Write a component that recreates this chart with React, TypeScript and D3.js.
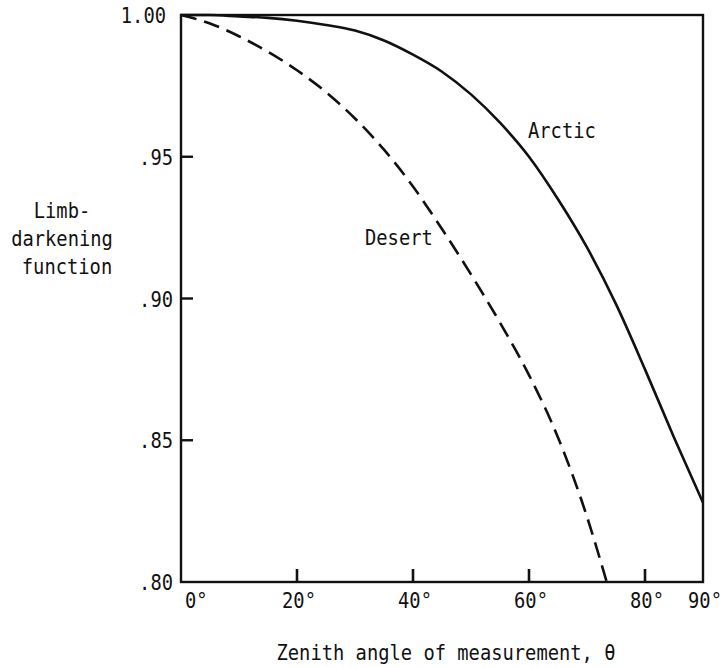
import { useEffect } from 'react';
import { scaleLinear, line, curveMonotoneX } from 'd3';

// ── Data ──
const ARCTIC_ANGLE = [0, 5, 10, 15, 20, 25, 30, 35, 40, 45, 50, 55, 60, 65, 70, 75, 80, 85, 90];
const ARCTIC_VALUE = [1.0, 1.0, 0.9995, 0.999, 0.998, 0.9965, 0.9945, 0.991, 0.986, 0.98, 0.972, 0.962, 0.95, 0.935, 0.918, 0.898, 0.875, 0.851, 0.828];

const DESERT_ANGLE = [0, 5, 10, 15, 20, 25, 30, 35, 40, 45, 50, 55, 60, 65, 70, 73.4];
const DESERT_VALUE = [1.0, 0.997, 0.9925, 0.987, 0.9805, 0.9728, 0.9635, 0.9525, 0.9395, 0.9245, 0.9085, 0.8915, 0.873, 0.851, 0.823, 0.8];

const X_TICKS = [0, 20, 40, 60, 80, 90];
const X_TICK_LABELS = ['0°', '20°', '40°', '60°', '80°', '90°'];
const Y_TICKS = [1.0, 0.95, 0.9, 0.85, 0.8];
const Y_TICK_LABELS = ['1.00', '.95', '.90', '.85', '.80'];

const W = 725;
const H = 667;
const PLOT = { left: 181, right: 703, top: 15, bottom: 582 };
const FONT = "'DejaVu Sans Mono', monospace";
const FONT_SIZE = 21;
const CHAR_W = 11.3;   // the original typewriter face is tall and narrow
const INK = '#111';

function Label({ x, y, text, anchor = 'start' }: { x: number; y: number; text: string; anchor?: string }) {
  return (
    <text
      x={x} y={y}
      textAnchor={anchor}
      fontFamily={FONT} fontSize={FONT_SIZE} fill={INK}
      textLength={text.length * CHAR_W} lengthAdjust="spacingAndGlyphs"
    >
      {text}
    </text>
  );
}

export default function App() {
  useEffect(() => {
    document.body.style.margin = '0';
  }, []);

  const x = scaleLinear().domain([0, 90]).range([PLOT.left, PLOT.right]);
  const y = scaleLinear().domain([0.8, 1.0]).range([PLOT.bottom, PLOT.top]);

  const curve = line<[number, number]>()
    .x((d) => x(d[0]))
    .y((d) => y(d[1]))
    .curve(curveMonotoneX);

  const arcticPath = curve(ARCTIC_ANGLE.map((a, i) => [a, ARCTIC_VALUE[i]]));
  const desertPath = curve(DESERT_ANGLE.map((a, i) => [a, DESERT_VALUE[i]]));

  return (
    <svg width={W} height={H} style={{ display: 'block', background: '#fff' }}>
      {/* Curves */}
      <path d={arcticPath ?? ''} fill="none" stroke={INK} strokeWidth={2.6} />
      <path d={desertPath ?? ''} fill="none" stroke={INK} strokeWidth={2.6} strokeDasharray="16 8" />

      {/* Frame */}
      <rect
        x={PLOT.left} y={PLOT.top}
        width={PLOT.right - PLOT.left} height={PLOT.bottom - PLOT.top}
        fill="none" stroke={INK} strokeWidth={2.4}
      />

      {/* Y ticks (inside) */}
      {Y_TICKS.map((v, i) => (
        <g key={`y${i}`}>
          {i > 0 && i < Y_TICKS.length - 1 && (
            <line x1={PLOT.left} x2={PLOT.left + 12} y1={y(v)} y2={y(v)} stroke={INK} strokeWidth={2.4} />
          )}
          <Label x={i === 0 ? PLOT.left - 15 : PLOT.left - 8} y={y(v) + 8} text={Y_TICK_LABELS[i]} anchor="end" />
        </g>
      ))}

      {/* X ticks (inside, pointing up) */}
      {X_TICKS.map((v, i) => (
        <g key={`x${i}`}>
          {i > 0 && i < X_TICKS.length - 1 && (
            <line x1={x(v)} x2={x(v)} y1={PLOT.bottom} y2={PLOT.bottom - 13} stroke={INK} strokeWidth={2.6} />
          )}
          <Label
            x={i === 0 ? x(v) + 4 : x(v) + 2}
            y={608}
            text={X_TICK_LABELS[i]}
            anchor={i === 0 ? 'start' : 'middle'}
          />
        </g>
      ))}

      {/* Series labels */}
      <Label x={528} y={138} text="Arctic" />
      <Label x={365} y={245} text="Desert" />

      {/* Axis titles */}
      <Label x={62} y={218} text="Limb-" anchor="middle" />
      <Label x={62} y={246} text="darkening" anchor="middle" />
      <Label x={67} y={274} text="function" anchor="middle" />
      <Label x={446} y={660} text="Zenith angle of measurement, θ" anchor="middle" />
    </svg>
  );
}
